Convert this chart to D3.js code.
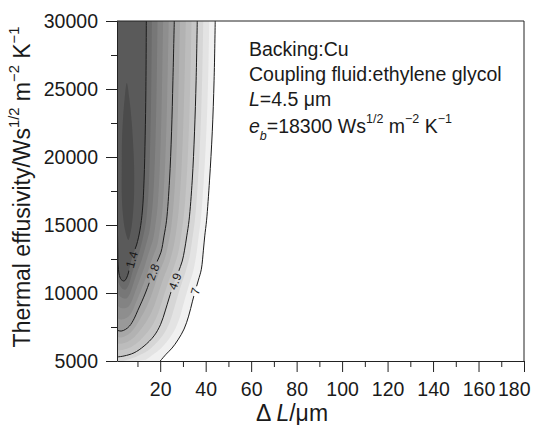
<!DOCTYPE html>
<html>
<head>
<meta charset="utf-8">
<script src="https://cdn.jsdelivr.net/npm/d3@7"></script>
<style>
  body { margin: 0; background: #fff; }
  svg text { font-family: "Liberation Sans", Arial, Helvetica, sans-serif; fill: #1a1a1a; }
</style>
</head>
<body>
<div id="chart"></div>
<script>
// contour lines, points are [ΔL (µm), e (W s^1/2 m^-2 K^-1)]
const levels = [1.4, 2.8, 4.9, 7];
const line14 = [[13.9,30000],[13.7,24900],[13.4,21600],[12.9,18300],[12.2,16100],[11.1,14630],[9.6,13530],[8.0,12800],[6.9,12130],[6.1,11540],[5.2,11100],[4.1,10880],[2.8,11000],[1.9,11400],[1.5,12060],[1.35,13150],[1.1,15400],[0.8,18300]];
const line28 = [[26.2,30000],[25.6,25650],[25.0,21850],[24.1,18300],[22.8,15350],[21.7,14200],[20.35,13000],[18.6,12300],[16.8,11550],[15.3,10800],[13.5,10000],[12.0,9400],[10.1,8700],[8.5,8100],[6.5,7570],[4.7,7320],[2.8,7200],[1.1,7260],[0.1,7350]];
const line49 = [[36.3,30000],[35.8,25650],[35.1,21850],[34.1,18300],[32.7,15350],[31.7,14200],[30.7,13150],[29.7,12350],[28.0,11550],[26.5,10900],[25.0,10200],[23.8,9560],[22.2,8680],[20.2,7700],[17.3,6850],[12.9,6100],[8.5,5600],[4.1,5370],[1.1,5300],[0.1,5300]];
const line70 = [[44.2,30000],[43.7,25650],[42.9,21850],[41.7,18300],[40.4,15350],[39.6,14200],[39.0,13150],[38.1,11750],[36.8,10950],[35.5,10200],[34.2,9400],[32.5,8300],[30.5,7350],[27.8,6550],[25.2,5950],[22.6,5500],[20.0,5000],[18.9,4800]];
// darkest core around the minimum (no line drawn there)
const core = [[5.3,25450],[6.5,24200],[7.4,22700],[8.0,21250],[8.5,19400],[8.5,17200],[8.0,15750],[7.2,14650],[6.0,13900],[4.7,14500],[3.6,15750],[3.1,17200],[3.1,19400],[3.2,21250],[3.6,22700],[4.3,24200]];
// e value where each line carries its label
const labelE = [12500, 11550, 10900, 10200];

const xTicks = [20, 40, 60, 80, 100, 120, 140, 160, 180];
const xMinor = [10, 30, 50, 70, 90, 110, 130, 150, 170];
const yTicks = [5000, 10000, 15000, 20000, 25000, 30000];
const yMinor = [7500, 12500, 17500, 22500, 27500];

// grey steps between the labelled lines (inner -> outer)
const bandColors = [
  ["#6b6b6b", "#777777", "#838383", "#8e8e8e", "#999999"],
  ["#a7a7a7", "#b2b2b2", "#bcbcbc", "#c6c6c6"],
  ["#d6d6d6", "#e3e3e3", "#f0f0f0"]
];

const margin = { top: 21, right: 14, bottom: 64, left: 117 };
const width = 538 - margin.left - margin.right;
const height = 425 - margin.top - margin.bottom;

const svgRoot = d3.select("#chart")
    .append("svg")
    .attr("width", 538)
    .attr("height", 425);

const svg = svgRoot.append("g")
    .attr("transform", `translate(${margin.left}, ${margin.top})`);

const x = d3.scaleLinear().domain([1, 180]).range([0, width]);
const y = d3.scaleLinear().domain([5000, 30000]).range([height, 0]);

const line = d3.line()
    .x(d => x(d[0]))
    .y(d => y(d[1]))
    .curve(d3.curveCatmullRom);

const defs = svgRoot.append("defs");
defs.append("clipPath").attr("id", "plot")
    .append("rect").attr("width", width).attr("height", height);

// sample the smooth curve so the grey steps can follow it
const probe = svg.append("path").attr("fill", "none").attr("stroke", "none");
function sample(points, n) {
    probe.attr("d", line(points));
    const node = probe.node(), L = node.getTotalLength();
    const out = [];
    for (let i = 0; i <= n; i++) {
        const p = node.getPointAtLength(L * i / n);
        out.push([p.x, p.y]);
    }
    return out;
}
function trim(pts) {
    const out = [];
    for (let i = 0; i < pts.length; i++) {
        out.push(pts[i]);
        if (i > 10 && (pts[i][0] <= 1.5 || pts[i][1] >= height)) break;
    }
    return out;
}
function resample(pts, n) {
    const cum = [0];
    for (let i = 1; i < pts.length; i++)
        cum.push(cum[i - 1] + Math.hypot(pts[i][0] - pts[i - 1][0], pts[i][1] - pts[i - 1][1]));
    const total = cum[cum.length - 1], out = [];
    let j = 0;
    for (let k = 0; k <= n; k++) {
        const s = total * k / n;
        while (j < cum.length - 2 && cum[j + 1] < s) j++;
        const f = (s - cum[j]) / ((cum[j + 1] - cum[j]) || 1);
        out.push([pts[j][0] + f * (pts[j + 1][0] - pts[j][0]), pts[j][1] + f * (pts[j + 1][1] - pts[j][1])]);
    }
    return out;
}

const lines = [line14, line28, line49, line70];
const full = lines.map(l => sample(l, 400));
const edges = full.map(p => resample(trim(p), 300));
probe.remove();

const fills = svg.append("g").attr("clip-path", "url(#plot)");
const poly = d3.line();

// outer bands first, then inner ones on top
for (let b = bandColors.length - 1; b >= 0; b--) {
    const inner = edges[b], outer = edges[b + 1], cols = bandColors[b];
    for (let j = cols.length - 1; j >= 0; j--) {
        const t = (j + 1) / cols.length;
        const pts = inner.map((p, i) => d3.interpolateArray(p, outer[i])(t));
        if (b === 2) pts.push([-3, height + 3]);
        pts.push([-3, -3]);
        fills.append("path").attr("d", poly(pts) + "Z").attr("fill", cols[j]);
    }
}
fills.append("path")
    .attr("d", poly(edges[0].concat([[-3, -3]])) + "Z")
    .attr("fill", "#5a5a5a");
fills.append("path")
    .datum(core)
    .attr("d", d3.line().x(d => x(d[0])).y(d => y(d[1])).curve(d3.curveCatmullRomClosed))
    .attr("fill", "#4b4b4b");

// label positions on the lines, angle follows the local direction
const labels = levels.map((lv, i) => {
    const pts = full[i], ty = y(labelE[i]);
    const k = pts.findIndex(p => p[1] >= ty);
    const a = pts[Math.max(k - 10, 0)], c = pts[Math.min(k + 10, pts.length - 1)];
    const ang = Math.atan2(a[1] - c[1], a[0] - c[0]) * 180 / Math.PI;
    return { text: String(lv), x: pts[k][0], y: pts[k][1], ang };
});

const mask = defs.append("mask").attr("id", "gaps")
    .attr("maskUnits", "userSpaceOnUse")
    .attr("x", -10).attr("y", -10).attr("width", width + 20).attr("height", height + 20);
mask.append("rect").attr("x", -10).attr("y", -10)
    .attr("width", width + 20).attr("height", height + 20).attr("fill", "#fff");
mask.selectAll("rect.gap")
    .data(labels)
    .join("rect")
    .attr("class", "gap")
    .attr("x", d => -(d.text.length * 6.2 + 4) / 2)
    .attr("y", -5.5)
    .attr("width", d => d.text.length * 6.2 + 4)
    .attr("height", 11)
    .attr("transform", d => `translate(${d.x},${d.y}) rotate(${d.ang})`)
    .attr("fill", "#000");

svg.append("g")
    .attr("clip-path", "url(#plot)")
    .append("g")
    .attr("mask", "url(#gaps)")
    .selectAll("path")
    .data(lines)
    .join("path")
    .attr("d", line)
    .attr("fill", "none")
    .attr("stroke", "#1c1c1c")
    .attr("stroke-width", 1);

svg.append("g")
    .selectAll("text")
    .data(labels)
    .join("text")
    .attr("transform", d => `translate(${d.x},${d.y}) rotate(${d.ang})`)
    .attr("text-anchor", "middle")
    .attr("dy", "0.36em")
    .attr("font-size", 12)
    .text(d => d.text);

// frame
svg.append("path")
    .attr("d", `M${x(1)},${y(30000)}H${x(180)}V${y(5000)}`)
    .attr("fill", "none")
    .attr("stroke", "#222")
    .attr("stroke-width", 1);

// axes
function styleAxis(g) {
    g.attr("font-size", 19.5).attr("font-family", null);
    g.selectAll("path, line").attr("stroke", "#222");
    g.selectAll("text").attr("fill", "#1a1a1a");
}
svg.append("g")
    .attr("transform", `translate(0, ${height})`)
    .call(d3.axisBottom(x).tickValues(xTicks).tickSize(11).tickSizeOuter(0).tickPadding(10))
    .call(styleAxis)
    .call(g => g.selectAll(".tick:last-of-type text").attr("text-anchor", "end").attr("dx", 6));
svg.append("g")
    .attr("transform", `translate(0, ${height})`)
    .call(d3.axisBottom(x).tickValues(xMinor).tickSize(6).tickFormat(""))
    .call(styleAxis)
    .call(g => g.select(".domain").remove());
svg.append("g")
    .call(d3.axisLeft(y).tickValues(yTicks).tickSize(11).tickSizeOuter(0).tickPadding(8).tickFormat(d3.format("d")))
    .call(styleAxis);
svg.append("g")
    .call(d3.axisLeft(y).tickValues(yMinor).tickSize(6).tickFormat(""))
    .call(styleAxis)
    .call(g => g.select(".domain").remove());

// rich text helper: segments of [text, {i, sup, sub}]
function rich(sel, parts, size) {
    let shift = 0;
    parts.forEach(([t, s = {}]) => {
        const ts = sel.append("tspan").text(t);
        let target = 0;
        if (s.sup) { target = -0.5 * size; ts.attr("font-size", size * 0.64); }
        if (s.sub) { target = 0.38 * size; ts.attr("font-size", size * 0.64); }
        if (s.i) ts.attr("font-style", "italic");
        if (target - shift !== 0) ts.attr("dy", target - shift);
        shift = target;
    });
}

// axis titles
const xt = svgRoot.append("text")
    .attr("x", 292).attr("y", 421)
    .attr("text-anchor", "middle")
    .attr("font-size", 23);
rich(xt, [["Δ "], ["L", { i: true }], ["/μm"]], 23);

const yt = svgRoot.append("text")
    .attr("transform", "translate(30, 187) rotate(-90)")
    .attr("text-anchor", "middle")
    .attr("font-size", 23);
rich(yt, [["Thermal effusivity/Ws"], ["1/2", { sup: true }], [" m"], ["−2", { sup: true }], [" K"], ["−1", { sup: true }]], 23);

// annotation
const note = [
    [["Backing:Cu"]],
    [["Coupling fluid:ethylene glycol"]],
    [["L", { i: true }], ["=4.5 μm"]],
    [["e", { i: true }], ["b", { i: true, sub: true }], ["=18300 Ws"], ["1/2", { sup: true }], [" m"], ["−2", { sup: true }], [" K"], ["−1", { sup: true }]]
];
const noteY = [56, 81, 106, 133];
note.forEach((parts, i) => {
    const t = svgRoot.append("text")
        .attr("x", 249).attr("y", noteY[i])
        .attr("font-size", 19.5);
    rich(t, parts, 19.5);
});
</script>
</body>
</html>
